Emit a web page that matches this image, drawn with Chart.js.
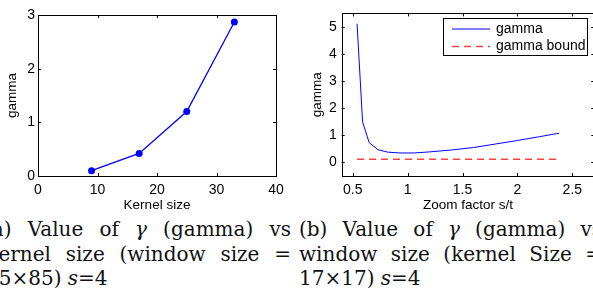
<!DOCTYPE html>
<html>
<head>
<meta charset="utf-8">
<script src="https://cdn.jsdelivr.net/npm/chart.js@4.4.0/dist/chart.umd.min.js"></script>
<style>
  html, body { margin: 0; padding: 0; background: #fff; }
  body { width: 593px; height: 298px; overflow: hidden; position: relative; }
  .box { position: absolute; }
  .line { position: absolute; width: 303px; font: 20px "DejaVu Serif", serif; color: #111;
          text-align: justify; text-align-last: justify; white-space: normal; }
  .line.last { text-align-last: left; }
</style>
</head>
<body>
<div class="box" style="left:0;top:0;width:290px;height:215px"><canvas id="kernelChart"></canvas></div>
<div class="box" style="left:295px;top:0;width:310px;height:215px"><canvas id="zoomChart"></canvas></div>

<div class="line" style="left:-16px;top:217px;width:307px">(a) Value of <i>γ</i> (gamma) vs</div>
<div class="line" style="left:-16px;top:242px;width:307px">Kernel size (window size =</div>
<div class="line last" style="left:-14px;top:266px">85×85) <i>s</i>=4</div>
<div class="line" style="left:299px;top:217px">(b) Value of <i>γ</i> (gamma) vs</div>
<div class="line" style="left:299px;top:242px">window size (kernel Size =</div>
<div class="line last" style="left:299px;top:266px">17×17) <i>s</i>=4</div>

<script>
// (a) gamma vs kernel size
const kernelSizes = [9, 17, 25, 33];
const gammaKernel = [0.1, 0.42, 1.2, 2.87];
const kernelTicksX = [0, 10, 20, 30, 40];
const kernelTicksY = [0, 1, 2, 3];

// (b) gamma vs zoom factor
const zoomFactors = [0.54, 0.59, 0.65, 0.73, 0.82, 0.93, 1.06, 1.2, 1.4, 1.6, 1.8, 2.0, 2.2, 2.38];
const gammaZoom = [5.12, 1.5, 0.73, 0.47, 0.38, 0.35, 0.35, 0.39, 0.46, 0.55, 0.68, 0.81, 0.95, 1.08];
const boundX = [0.54, 2.38];
const boundY = [0.12, 0.12];
const zoomTicksX = [0.5, 1, 1.5, 2, 2.5];
const zoomTicksY = [0, 1, 2, 3, 4, 5];

Chart.defaults.font.family = "'Liberation Sans', Arial, sans-serif";
Chart.defaults.color = "#000";
Chart.defaults.animation = false;

// matlab style box with inward ticks
const boxTicks = {
    id: "boxTicks",
    afterDatasetsDraw(chart) {
        const { ctx, chartArea: a, scales } = chart;
        const len = 3;
        ctx.save();
        ctx.strokeStyle = "#000";
        ctx.lineWidth = 1;
        ctx.beginPath();
        scales.x.ticks.forEach(t => {
            const px = Math.round(scales.x.getPixelForValue(t.value)) + 0.5;
            ctx.moveTo(px, a.bottom); ctx.lineTo(px, a.bottom - len);
            ctx.moveTo(px, a.top); ctx.lineTo(px, a.top + len);
        });
        scales.y.ticks.forEach(t => {
            const py = Math.round(scales.y.getPixelForValue(t.value)) + 0.5;
            ctx.moveTo(a.left, py); ctx.lineTo(a.left + len, py);
            ctx.moveTo(a.right, py); ctx.lineTo(a.right - len, py);
        });
        ctx.stroke();
        ctx.strokeRect(Math.round(a.left) + 0.5, Math.round(a.top) + 0.5,
            Math.round(a.right - a.left), Math.round(a.bottom - a.top));
        ctx.restore();
    }
};

// legend box drawn inside plot area (top right)
const innerLegend = {
    id: "innerLegend",
    afterDraw(chart, args, opts) {
        if (!opts.show) return;
        const ctx = chart.ctx;
        const x0 = opts.x, y0 = opts.y, w = opts.w, h = opts.h;
        ctx.save();
        ctx.fillStyle = "#fff";
        ctx.fillRect(x0, y0, w, h);
        ctx.strokeStyle = "#000";
        ctx.lineWidth = 1;
        ctx.strokeRect(x0 + 0.5, y0 + 0.5, w, h);
        ctx.font = "14px 'Liberation Sans', Arial, sans-serif";
        ctx.textBaseline = "middle";
        chart.data.datasets.forEach((ds, i) => {
            const y = y0 + 11 + i * 17.5;
            ctx.strokeStyle = ds.borderColor;
            ctx.lineWidth = ds.borderWidth;
            ctx.setLineDash(ds.borderDash || []);
            ctx.beginPath();
            ctx.moveTo(x0 + 9, y); ctx.lineTo(x0 + 47, y);
            ctx.stroke();
            ctx.setLineDash([]);
            ctx.fillStyle = "#000";
            ctx.fillText(ds.label, x0 + 53, y);
        });
        ctx.restore();
    }
};

function axisOpts(min, max, tickVals, title, isY, size, pad) {
    return {
        type: "linear",
        min: min,
        max: max,
        afterBuildTicks: s => { s.ticks = tickVals.map(v => ({ value: v })); },
        afterFit: s => { if (isY) s.width = size; else s.height = size; },
        grid: { display: false, drawTicks: false },
        border: { display: false },
        ticks: { font: { size: 14 }, padding: pad, callback: v => String(v) },
        title: { display: true, text: title, font: { size: 13.5 }, padding: { top: 4, bottom: 2 } }
    };
}

new Chart(document.getElementById("kernelChart"), {
    type: "line",
    data: {
        datasets: [{
            label: "gamma",
            data: kernelSizes.map((k, i) => ({ x: k, y: gammaKernel[i] })),
            borderColor: "#0000ff",
            backgroundColor: "#0000ff",
            borderWidth: 1.3,
            pointRadius: 3.5,
            pointBorderWidth: 0,
            tension: 0
        }]
    },
    options: {
        responsive: true,
        maintainAspectRatio: false,
        layout: { padding: { left: 0, right: 14, top: 15, bottom: 0 } },
        plugins: { legend: { display: false }, tooltip: { enabled: false }, innerLegend: { show: false } },
        scales: {
            x: axisOpts(0, 40, kernelTicksX, "Kernel size", false, 39, 6),
            y: axisOpts(0, 3, kernelTicksY, "gamma", true, 38, 3)
        }
    },
    plugins: [boxTicks, innerLegend]
});

new Chart(document.getElementById("zoomChart"), {
    type: "line",
    data: {
        datasets: [
            {
                label: "gamma",
                data: zoomFactors.map((z, i) => ({ x: z, y: gammaZoom[i] })),
                borderColor: "#0000ff",
                borderWidth: 1,
                pointRadius: 0,
                tension: 0
            },
            {
                label: "gamma bound",
                data: boundX.map((b, i) => ({ x: b, y: boundY[i] })),
                borderColor: "rgba(255,0,0,0.75)",
                borderWidth: 1.5,
                borderDash: [7, 5],
                pointRadius: 0
            }
        ]
    },
    options: {
        responsive: true,
        maintainAspectRatio: false,
        layout: { padding: { left: 10, right: 10.7, top: 12, bottom: 0 } },
        plugins: {
            legend: { display: false },
            tooltip: { enabled: false },
            innerLegend: { show: true, x: 148, y: 18, w: 144, h: 37 }
        },
        scales: {
            x: axisOpts(0.4, 2.7, zoomTicksX, "Zoom factor s/t", false, 39, 6),
            y: axisOpts(-0.5, 5.5, zoomTicksY, "gamma", true, 36.7, 5)
        }
    },
    plugins: [boxTicks, innerLegend]
});
</script>
</body>
</html>
